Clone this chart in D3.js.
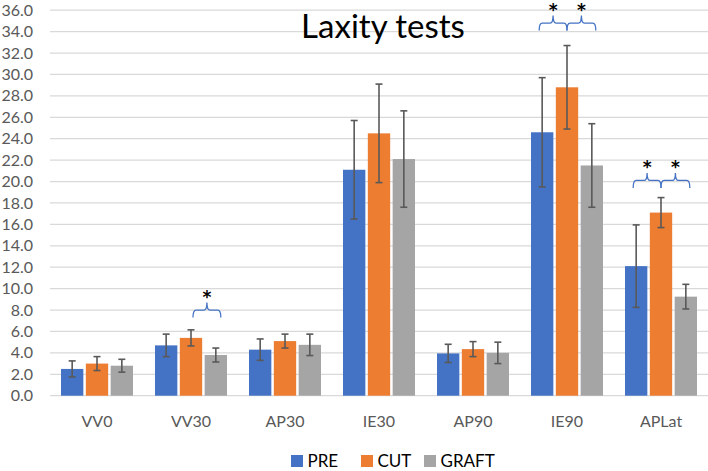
<!DOCTYPE html>
<html>
<head>
<meta charset="utf-8">
<script src="https://cdn.jsdelivr.net/npm/d3@7"></script>
<style>
html,body{margin:0;padding:0;background:#fff;}
svg{display:block;font-family:Lato,"Open Sans",sans-serif;}
</style>
</head>
<body>
<svg id="chart" width="708" height="471"></svg>
<script>
// ---- data ----
const categories = ["VV0","VV30","AP30","IE30","AP90","IE90","APLat"];
const seriesNames = ["PRE","CUT","GRAFT"];
const preMean   = [2.5, 4.7, 4.3, 21.1, 3.95, 24.6, 12.1];
const cutMean   = [3.0, 5.4, 5.1, 24.5, 4.35, 28.8, 17.1];
const graftMean = [2.8, 3.8, 4.75, 22.1, 4.0, 21.5, 9.25];
const preErr    = [0.75, 1.05, 1.0, 4.6, 0.85, 5.1, 3.85];
const cutErr    = [0.65, 0.75, 0.65, 4.6, 0.7, 3.9, 1.4];
const graftErr  = [0.6, 0.65, 1.0, 4.5, 1.0, 3.9, 1.15];
const yTicks = [0,2,4,6,8,10,12,14,16,18,20,22,24,26,28,30,32,34,36];
const titleText = "Laxity tests";
// significance brackets: category, from-series, to-series, level (y value)
const brackets = [
  {cat:"VV30", from:"CUT", to:"GRAFT", level:8.0, ext:[-2,5]},
  {cat:"IE90", from:"PRE", to:"CUT", level:34.8, ext:[3,0]},
  {cat:"IE90", from:"CUT", to:"GRAFT", level:34.8, ext:[0,4]},
  {cat:"APLat", from:"PRE", to:"CUT", level:20.1, ext:[3,0]},
  {cat:"APLat", from:"CUT", to:"GRAFT", level:20.1, ext:[0,4]}
];

const colors = {PRE:"#4472C4", CUT:"#ED7D31", GRAFT:"#A5A5A5"};
const means = {PRE:preMean, CUT:cutMean, GRAFT:graftMean};
const errs = {PRE:preErr, CUT:cutErr, GRAFT:graftErr};

const svg = d3.select("#chart");
const mLeft = 50, mRight = 708, mTop = 10.2, mBottom = 395.7;

const y = d3.scaleLinear().domain([0,36]).range([mBottom, mTop]);
const x0 = d3.scaleBand().domain(categories).range([mLeft, mRight]).paddingInner(0.234).paddingOuter(0.117);
const x1 = d3.scaleBand().domain(seriesNames).range([0, x0.bandwidth()]).paddingInner(0.1).paddingOuter(0);

// gridlines
svg.append("g").selectAll("line").data(yTicks).join("line")
  .attr("x1", mLeft).attr("x2", mRight)
  .attr("y1", d => y(d)).attr("y2", d => y(d))
  .attr("stroke", "#d9d9d9").attr("stroke-width", 1.3);

// y axis labels
const yAxis = d3.axisLeft(y).tickValues(yTicks).tickFormat(d3.format(".1f")).tickSize(0).tickPadding(0);
const gy = svg.append("g").attr("transform", `translate(33,0)`).call(yAxis);
gy.select(".domain").remove();
gy.selectAll("text").attr("fill", "#595959").attr("font-size", 16).attr("font-family", "Lato");

// x axis labels
const xAxis = d3.axisBottom(d3.scaleBand().domain(categories).range([mLeft, mRight])).tickSize(0).tickPadding(0);
const gx = svg.append("g").attr("transform", `translate(0,${mBottom})`).call(xAxis);
gx.select(".domain").remove();
gx.selectAll("text").attr("fill", "#595959").attr("font-size", 16).attr("font-family", "Lato").attr("dy", 0).attr("y", 31);

// bars
const rows = [];
categories.forEach((c, i) => seriesNames.forEach(s => rows.push({cat:c, s, v:means[s][i], e:errs[s][i]})));
const bw = x1.bandwidth();
svg.append("g").selectAll("rect").data(rows).join("rect")
  .attr("x", d => x0(d.cat) + x1(d.s))
  .attr("y", d => y(d.v))
  .attr("width", bw)
  .attr("height", d => y(0) - y(d.v))
  .attr("fill", d => colors[d.s]);

// error bars
const eg = svg.append("g").attr("stroke", "#595959").attr("stroke-width", 1.6);
const cx = d => x0(d.cat) + x1(d.s) + bw/2;
eg.selectAll("line.v").data(rows).join("line").attr("class","v")
  .attr("x1", cx).attr("x2", cx)
  .attr("y1", d => y(d.v + d.e)).attr("y2", d => y(d.v - d.e));
eg.selectAll("line.t").data(rows).join("line").attr("class","t")
  .attr("x1", d => cx(d) - 3.5).attr("x2", d => cx(d) + 3.5)
  .attr("y1", d => y(d.v + d.e)).attr("y2", d => y(d.v + d.e));
eg.selectAll("line.b").data(rows).join("line").attr("class","b")
  .attr("x1", d => cx(d) - 3.5).attr("x2", d => cx(d) + 3.5)
  .attr("y1", d => y(d.v - d.e)).attr("y2", d => y(d.v - d.e));

// brackets
const bg = svg.append("g");
brackets.forEach(b => {
  const xa = x0(b.cat) + x1(b.from) + bw/2 - b.ext[0];
  const xb = x0(b.cat) + x1(b.to) + bw/2 + b.ext[1];
  const xm = (xa + xb) / 2;
  const yh = y(b.level);
  const yb = yh + 7.5, yn = yh - 7.5, r = 3;
  const p = d3.path();
  p.moveTo(xa, yb);
  p.quadraticCurveTo(xa, yh, xa + r, yh);
  p.lineTo(xm - r, yh);
  p.quadraticCurveTo(xm, yh, xm, yn);
  p.quadraticCurveTo(xm, yh, xm + r, yh);
  p.lineTo(xb - r, yh);
  p.quadraticCurveTo(xb, yh, xb, yb);
  bg.append("path").attr("d", p.toString()).attr("fill", "none")
    .attr("stroke", "#4472C4").attr("stroke-width", 1.3);
  bg.append("text").attr("x", xm).attr("y", yh - 7.5)
    .attr("text-anchor", "middle").attr("font-size", 17).attr("font-weight", "bold")
    .attr("font-family", "DejaVu Sans").attr("fill", "#000").text("*");
});

// title
svg.append("text").attr("x", 383).attr("y", 37.5).attr("text-anchor", "middle")
  .attr("font-size", 33).attr("font-family", "Lato").attr("fill", "#000").text(titleText);

// legend
const legendX = [291, 361, 424];
const lg = svg.append("g");
seriesNames.forEach((s, i) => {
  lg.append("rect").attr("x", legendX[i]).attr("y", 455).attr("width", 12).attr("height", 12).attr("fill", colors[s]);
  lg.append("text").attr("x", legendX[i] + 16.5).attr("y", 467).attr("font-size", 17)
    .attr("font-family", "Lato").attr("fill", "#000").text(s);
});
</script>
</body>
</html>
